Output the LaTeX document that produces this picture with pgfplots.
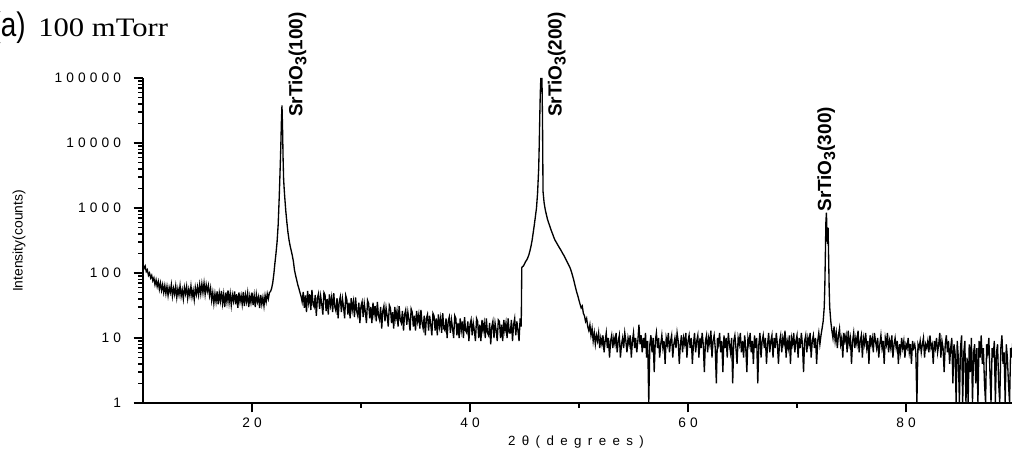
\documentclass[border=0pt]{standalone}
\usepackage{fontspec}
\setmainfont{Liberation Sans}
\newfontfamily\tickfont[LetterSpace=30]{Liberation Sans}
\newfontfamily\xlabfont[LetterSpace=48]{Liberation Sans}
\newfontfamily\titleserif[FakeStretch=1.15]{Liberation Serif}
\newfontfamily\titlesans[FakeStretch=0.82]{Liberation Sans}
\usepackage{pgfplots}
\pgfplotsset{compat=1.18}

% XRD scan, 100 mTorr film
\pgfplotstableread{
x y
10.0 135
10.1 118
10.2 128
10.3 105
10.4 112
10.5 92
10.6 100
10.7 84
10.8 92
10.9 76
11.0 84
11.1 66
11.2 78
11.3 62
11.4 74
11.5 56
11.6 70
11.7 54
11.8 66
11.9 50
12.0 64
12.1 48
12.2 62
12.3 45
12.4 60
12.5 50
12.6 66
12.7 44
12.8 58
12.9 47
13.0 63
13.1 42
13.2 57
13.3 46
13.4 64
13.5 44
13.6 55
13.7 40
13.8 60
13.9 48
14.0 62
14.1 41
14.2 56
14.3 45
14.4 63
14.5 43
14.6 54
14.7 39
14.8 60
14.9 47
15.0 61
15.1 46
15.2 66
15.3 48
15.4 68
15.5 50
15.6 70
15.7 47
15.8 66
15.9 52
16.0 64
16.1 45
16.2 58
16.3 38
16.4 50
16.5 34
16.6 48
16.7 36
16.8 52
16.9 33
17.0 49
17.1 37
17.2 53
17.3 34
17.4 47
17.5 30
17.6 50
17.7 36
17.8 54
17.9 35
18.0 48
18.1 32
18.2 46
18.3 37
18.4 52
18.5 33
18.6 47
18.7 29
18.8 50
18.9 36
19.0 45
19.1 33
19.2 51
19.3 31
19.4 46
19.5 36
19.6 49
19.7 30
19.8 44
19.9 35
20.0 50
20.1 32
20.2 45
20.3 30
20.4 47
20.5 36
20.6 43
20.7 29
20.8 46
20.9 33
21.0 42
21.1 31
21.2 45
21.3 36
21.4 48
21.5 40
21.6 50
21.7 52
21.8 58
21.9 70
22.0 95
22.1 140
22.2 200
22.3 300
22.4 550
22.5 1500
22.6 5000
22.65 10000
22.7 22000
22.75 38000
22.8 18000
22.85 6000
22.9 2800
22.95 2000
23.0 1500
23.1 900
23.2 600
23.3 420
23.4 320
23.5 260
23.6 220
23.7 185
23.8 150
23.9 110
24.0 92
24.1 78
24.2 66
24.3 58
24.4 50
24.5 44
24.6 36
24.7 51
24.8 29
24.9 45
25.0 25
25.1 53
25.2 35
25.3 47
25.4 27
25.5 55
25.6 33
25.7 30
25.8 46
25.9 22
26.0 41
26.1 48
26.2 28
26.3 44
26.4 33
26.5 23
26.6 50
26.7 46
26.8 26
26.9 40
27.0 23
27.1 47
27.2 32
27.3 42
27.4 25
27.5 49
27.6 30
27.7 26
27.8 41
27.9 20
28.0 36
28.1 43
28.2 25
28.3 40
28.4 30
28.5 20
28.6 45
28.7 39
28.8 23
28.9 35
29.0 20
29.1 41
29.2 27
29.3 36
29.4 21
29.5 42
29.6 26
29.7 22
29.8 35
29.9 17
30.0 31
30.1 36
30.2 21
30.3 34
30.4 25
30.5 17
30.6 38
30.7 34
30.8 20
30.9 30
31.0 17
31.1 35
31.2 23
31.3 31
31.4 18
31.5 36
31.6 22
31.7 19
31.8 30
31.9 14
32.0 26
32.1 31
32.2 18
32.3 29
32.4 22
32.5 15
32.6 32
32.7 29
32.8 17
32.9 25
33.0 14
33.1 30
33.2 20
33.3 26
33.4 15
33.5 31
33.6 19
33.7 17
33.8 26
33.9 13
34.0 23
34.1 27
34.2 16
34.3 25
34.4 19
34.5 13
34.6 28
34.7 25
34.8 15
34.9 22
35.0 13
35.1 26
35.2 18
35.3 23
35.4 14
35.5 27
35.6 17
35.7 14
35.8 22
35.9 11
36.0 20
36.1 23
36.2 13
36.3 22
36.4 16
36.5 11
36.6 24
36.7 22
36.8 13
36.9 20
37.0 11
37.1 23
37.2 15
37.3 20
37.4 12
37.5 24
37.6 14
37.7 13
37.8 20
37.9 10
38.0 18
38.1 21
38.2 12
38.3 19
38.4 14
38.5 10
38.6 22
38.7 20
38.8 11
38.9 17
39.0 10
39.1 20
39.2 13
39.3 18
39.4 10
39.5 21
39.6 13
39.7 12
39.8 18
39.9 9
40.0 16
40.1 19
40.2 11
40.3 17
40.4 13
40.5 9
40.6 20
40.7 18
40.8 10
40.9 16
41.0 9
41.1 19
41.2 13
41.3 17
41.4 10
41.5 20
41.6 12
41.7 11
41.8 17
41.9 8
42.0 15
42.1 18
42.2 10
42.3 17
42.4 13
42.5 9
42.6 19
42.7 18
42.8 10
42.9 16
43.0 9
43.1 19
43.2 13
43.3 17
43.4 10
43.5 20
43.6 12
43.7 12
43.8 19
43.9 9
44.0 16
44.1 20
44.2 11
44.3 18
44.4 13
44.5 9
44.6 20
44.7 15
44.75 120
44.8 125
44.9 128
45.0 138
45.1 150
45.2 158
45.3 172
45.4 190
45.5 220
45.6 260
45.7 320
45.8 420
45.9 550
46.0 740
46.1 1000
46.2 1700
46.3 4000
46.35 9000
46.4 25000
46.45 60000
46.5 100000
46.55 85000
46.6 100000
46.65 25000
46.7 1800
46.8 1200
46.9 950
47.0 800
47.1 680
47.2 600
47.3 540
47.4 480
47.5 430
47.6 390
47.7 350
47.8 320
47.9 300
48.0 280
48.1 262
48.2 245
48.3 230
48.4 215
48.5 200
48.6 188
48.7 175
48.8 162
48.9 150
49.0 138
49.1 128
49.2 118
49.3 105
49.4 92
49.5 80
49.6 68
49.7 58
49.8 50
49.9 44
50.0 38
50.1 33
50.2 29
50.3 31
50.4 24
50.5 22
50.6 18
50.7 20
50.8 15
50.9 13
51.0 16
51.1 11
51.2 14
51.3 9
51.4 12
51.5 8
51.6 11
51.7 9
51.8 12
51.9 7
52.0 10
52.1 8
52.2 11
52.3 6
52.4 9
52.5 12
52.6 7
52.7 10
52.8 5
52.9 9
53.0 11
53.1 7
53.2 10
53.3 8
53.4 12
53.5 6
53.6 9
53.7 11
53.8 5
53.9 8
54.0 10
54.1 7
54.2 12
54.3 9
54.4 6
54.5 10
54.6 8
54.7 11
54.8 5
54.9 9
55.0 12
55.1 7
55.2 10
55.3 6
55.4 9
55.5 16
55.6 8
55.7 11
55.8 6
55.9 10
56.0 7
56.1 12
56.2 5
56.3 9
56.4 1
56.5 8
56.6 11
56.7 6
56.8 10
56.9 3
57.0 9
57.1 12
57.2 7
57.3 10
57.4 5
57.5 8
57.6 11
57.7 7
57.8 9
57.9 4
58.0 10
58.1 8
58.2 12
58.3 6
58.4 9
58.5 11
58.6 5
58.7 8
58.8 10
58.9 7
59.0 12
59.1 9
59.2 4
59.3 8
59.4 11
59.5 6
59.6 10
59.7 8
59.8 12
59.9 5
60.0 9
60.1 11
60.2 7
60.3 10
60.4 4
60.5 8
60.6 12
60.7 6
60.8 9
60.9 11
61.0 5
61.1 10
61.2 7
61.3 12
61.4 8
61.5 3
61.6 9
61.7 11
61.8 6
61.9 10
62.0 8
62.1 13
62.2 5
62.3 9
62.4 11
62.5 7
62.6 2
62.7 10
62.8 8
62.9 12
63.0 6
63.1 9
63.2 3
63.3 11
63.4 7
63.5 10
63.6 5
63.7 12
63.8 8
63.9 6
64.0 10
64.1 2
64.2 9
64.3 11
64.4 7
64.5 4
64.6 10
64.7 8
64.8 12
64.9 6
65.0 9
65.1 5
65.2 11
65.3 7
65.4 3
65.5 10
65.6 8
65.7 12
65.8 6
65.9 9
66.0 4
66.1 11
66.2 7
66.3 10
66.4 2
66.5 8
66.6 12
66.7 5
66.8 9
66.9 11
67.0 7
67.1 10
67.2 4
67.3 8
67.4 12
67.5 6
67.6 9
67.7 11
67.8 5
67.9 10
68.0 7
68.1 12
68.2 8
68.3 4
68.4 9
68.5 11
68.6 6
68.7 10
68.8 8
68.9 13
69.0 5
69.1 9
69.2 7
69.3 11
69.4 4
69.5 10
69.6 8
69.7 12
69.8 6
69.9 9
70.0 11
70.1 5
70.2 10
70.3 7
70.4 12
70.5 8
70.6 3
70.7 9
70.8 11
70.9 6
71.0 10
71.1 8
71.2 12
71.3 5
71.4 9
71.5 11
71.6 7
71.7 10
71.8 4
71.9 9
72.0 12
72.1 8
72.2 11
72.3 14
72.4 18
72.5 30
72.55 60
72.6 180
72.65 600
72.7 850
72.75 420
72.8 280
72.85 500
72.9 180
72.95 60
73.0 30
73.1 18
73.2 13
73.3 10
73.4 15
73.5 9
73.6 12
73.7 7
73.8 11
73.9 14
74.0 8
74.1 10
74.2 5
74.3 12
74.4 9
74.5 11
74.6 6
74.7 13
74.8 8
74.9 10
75.0 4
75.1 9
75.2 12
75.3 7
75.4 10
75.5 8
75.6 13
75.7 6
75.8 9
75.9 11
76.0 5
76.1 10
76.2 8
76.3 12
76.4 7
76.5 9
76.6 4
76.7 11
76.8 8
76.9 10
77.0 6
77.1 12
77.2 9
77.3 7
77.4 10
77.5 5
77.6 8
77.7 11
77.8 7
77.9 9
78.0 4
78.1 10
78.2 8
78.3 12
78.4 6
78.5 9
78.6 7
78.7 11
78.8 5
78.9 8
79.0 10
79.1 7
79.2 9
79.3 4
79.4 8
79.5 6
79.6 10
79.7 7
79.8 9
79.9 5
80.0 8
80.1 7
80.2 10
80.3 6
80.4 8
80.5 4
80.6 9
80.7 7
80.8 8
80.9 6
81.0 1
81.1 8
81.2 7
81.3 9
81.4 6
81.5 8
81.6 10
81.7 5
81.8 8
81.9 7
82.0 9
82.1 6
82.2 11
82.3 7
82.4 8
82.5 4
82.6 9
82.7 7
82.8 10
82.9 6
83.0 8
83.1 12
83.2 5
83.3 9
83.4 7
83.5 3
83.6 8
83.7 11
83.8 6
83.9 9
84.0 4
84.1 7
84.2 10
84.3 2
84.4 8
84.5 6
84.6 1
84.7 9
84.8 5
84.9 1
85.0 7
85.1 11
85.2 1
85.3 6
85.4 9
85.5 1
85.6 5
85.7 1
85.8 8
85.9 3
86.0 10
86.1 1
86.2 6
86.3 8
86.4 2
86.5 7
86.6 1
86.7 9
86.8 5
86.9 11
87.0 4
87.1 7
87.2 2
87.3 1
87.4 8
87.5 6
87.6 10
87.7 3
87.8 1
87.9 7
88.0 5
88.1 9
88.2 1
88.3 6
88.4 8
88.5 2
88.6 1
88.7 7
88.8 11
88.9 4
89.0 6
89.1 1
89.2 8
89.3 5
89.4 2
89.5 1
89.6 7
89.7 5
89.8 9
89.9 6
90.0 6
}\xrddata

\begin{document}
\begin{tikzpicture}
\useasboundingbox (0pt,0pt) rectangle (759pt,342pt);
\begin{axis}[
  at={(107.25pt,39.75pt)}, anchor=south west,
  scale only axis, width=654pt, height=243.75pt,
  xmin=10, xmax=90, ymin=1, ymax=100000, ymode=log,
  axis x line*=bottom, axis y line*=left,
  axis line style={line width=1pt},
  tick align=outside,
  xtick={20,40,60,80}, xticklabels={20,40,60,80},
  minor xtick={30,50,70},
  ytick={1,10,100,1000,10000,100000},
  yticklabels={1,10,100,1000,10000,100000},
  minor ytick={2,3,4,5,6,7,8,9,20,30,40,50,60,70,80,90,200,300,400,500,600,700,800,900,2000,3000,4000,5000,6000,7000,8000,9000,20000,30000,40000,50000,60000,70000,80000,90000},
  ticklabel style={font=\fontsize{10.3}{12}\tickfont},
  yticklabel style={xshift=-6pt},
  xticklabel style={yshift=-1pt},
  major tick length=7pt, minor tick length=3.5pt,
  tick style={line width=1pt, black},
  clip=false,
]
\addplot[black, line width=1pt] table[x=x, y=y] {\xrddata};
\node[rotate=90, anchor=base west, inner sep=0pt, font=\fontsize{14.25}{16}\selectfont\bfseries]
  at (axis cs:24.63,25100) {SrTiO\raisebox{-3pt}{\fontsize{12}{12}\selectfont 3}(100)};
\node[rotate=90, anchor=base west, inner sep=0pt, font=\fontsize{14.25}{16}\selectfont\bfseries]
  at (axis cs:48.41,25100) {SrTiO\raisebox{-3pt}{\fontsize{12}{12}\selectfont 3}(200)};
\node[rotate=90, anchor=base west, inner sep=0pt, font=\fontsize{14.25}{16}\selectfont\bfseries]
  at (axis cs:73.12,870) {SrTiO\raisebox{-3pt}{\fontsize{12}{12}\selectfont 3}(300)};
\end{axis}
% axis titles
\node[rotate=90, anchor=base, inner sep=0pt, font=\fontsize{10.4}{12}\selectfont] at (17.03pt,161.25pt) {Intensity(counts)};
\node[anchor=base, inner sep=0pt, font=\fontsize{10}{12}\xlabfont] at (432pt,7.5pt) {2θ(degrees)};
% panel title
\node[anchor=base east, inner sep=0pt, font=\fontsize{25.5}{28}\titlesans] at (19.5pt,314.25pt) {(a)};
\node[anchor=base west, inner sep=0pt, font=\fontsize{20}{22}\titleserif] at (28.5pt,314.25pt) {100 mTorr};
\end{tikzpicture}
\end{document}
